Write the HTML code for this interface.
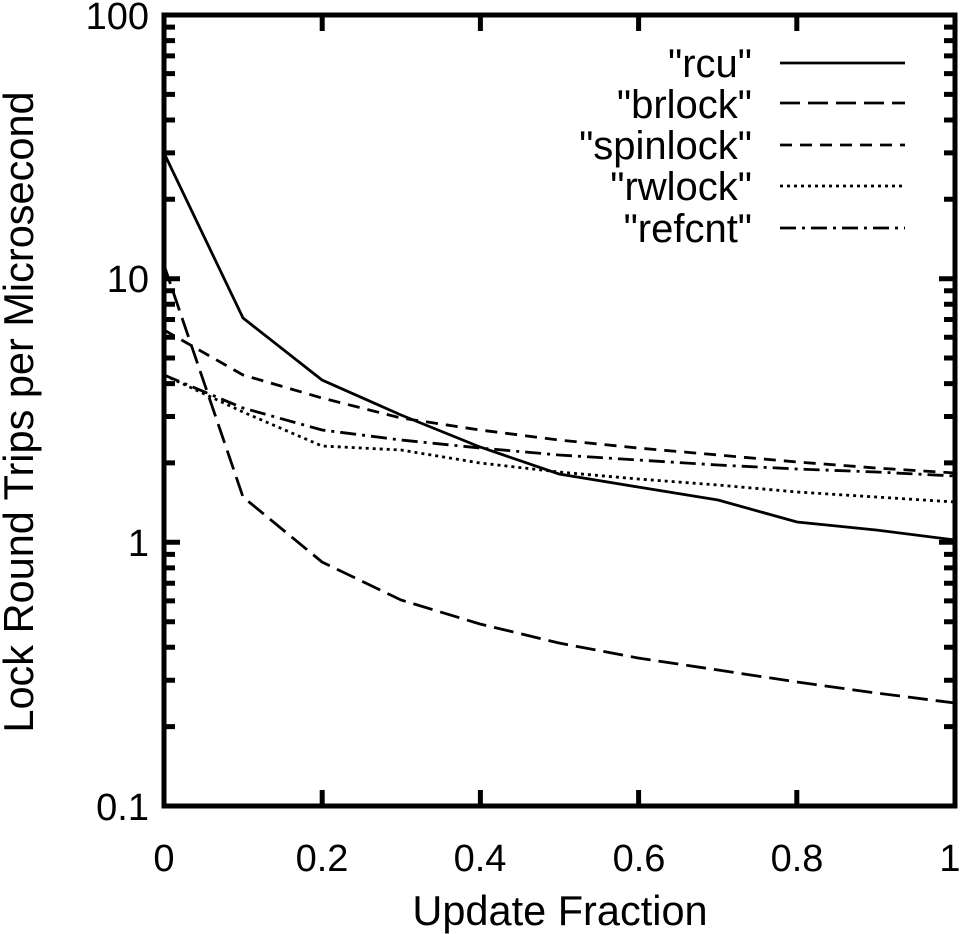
<!DOCTYPE html><html><head><style>body{margin:0;background:#fff}svg{display:block}text{font-family:"Liberation Sans",sans-serif;fill:#000}</style></head><body>
<svg width="960" height="934" xmlns="http://www.w3.org/2000/svg">
<g stroke="#000" stroke-width="5" fill="none">
<rect x="164" y="15" width="791" height="791"/>
</g>
<g stroke="#000" stroke-width="5">
<path d="M164 15h16M164 278.7h16M164 542.3h16M164 806h16M955 15h-16M955 278.7h-16M955 542.3h-16M955 806h-16"/>
<path id="mn" d="M164 726.6h11M164 680.2h11M164 647.3h11M164 621.7h11M164 600.9h11M164 583.2h11M164 567.9h11M164 554.4h11
M164 462.9h11M164 416.5h11M164 383.6h11M164 358h11M164 337.2h11M164 319.5h11M164 304.2h11M164 290.7h11
M164 199.3h11M164 152.9h11M164 120h11M164 94.4h11M164 73.6h11M164 55.9h11M164 40.6h11M164 27.1h11"/>
<use href="#mn" transform="translate(1119,0) scale(-1,1)"/>
<path d="M322.2 806v-16M480.4 806v-16M638.6 806v-16M796.8 806v-16M322.2 15v16M480.4 15v16M638.6 15v16M796.8 15v16"/>
</g>
<g font-size="38" text-anchor="end">
<text x="149" y="29">100</text><text x="149" y="292">10</text><text x="149" y="556">1</text><text x="149" y="820">0.1</text>
</g>
<g font-size="38" text-anchor="middle">
<text x="164" y="871">0</text><text x="322" y="871">0.2</text><text x="480" y="871">0.4</text><text x="639" y="871">0.6</text><text x="797" y="871">0.8</text><text x="950" y="871">1</text>
<text font-size="41.5" x="560" y="925">Update Fraction</text>
<text font-size="41.5" transform="translate(33,412) rotate(-90)">Lock Round Trips per Microsecond</text>
</g>
<g font-size="40" text-anchor="end">
<text x="752" y="77">"rcu"</text><text x="752" y="118">"brlock"</text><text x="752" y="159">"spinlock"</text><text x="752" y="200">"rwlock"</text><text x="752" y="242">"refcnt"</text>
</g>
<g stroke="#000" stroke-width="2.8" fill="none">
<path d="M780 63h125M164 153L243 318L322 380L401 415L480 447L559 474L638 487L718 500L797 522L876 530L955 540"/>
<path stroke-dasharray="20 8" d="M780 103h125M164 265L243 497L322 562L401 600L480 624L559 643L638 658L718 670L797 682L876 693L955 703"/>
<path stroke-dasharray="12 8" d="M780 145h125M164 330L243 375L322 398L401 418L480 430L559 440L638 448L718 455L797 462L876 468L955 473"/>
<path stroke-dasharray="3 4" d="M780 186h125M164 375L243 412L322 446L401 450L480 463L559 472L638 479L718 485L797 492L876 497L955 502"/>
<path stroke-dasharray="16 6 3 6" d="M780 228h125M164 375L243 408L322 430L401 440L480 448L559 455L638 460L718 465L797 469L876 472L955 476"/>
</g>
</svg></body></html>
